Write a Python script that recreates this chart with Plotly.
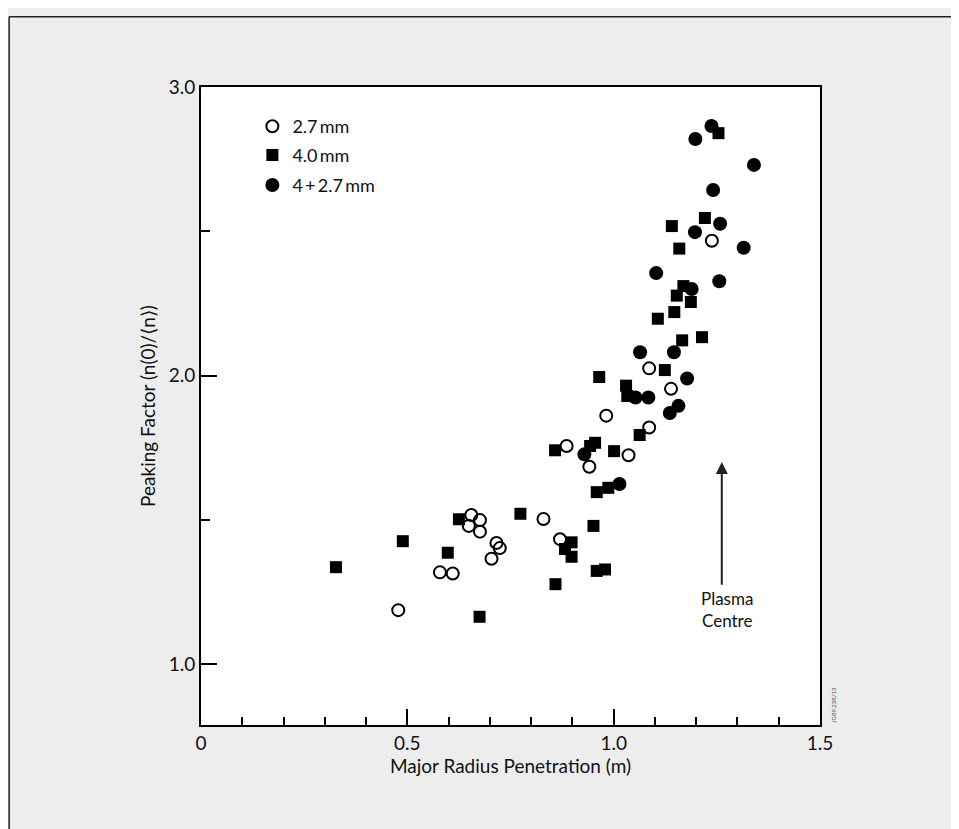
import plotly.graph_objects as go

# ---- data ----
open_x = [0.478, 0.579, 0.610, 0.655, 0.676, 0.649, 0.676, 0.716, 0.724, 0.704,
          0.830, 0.870, 0.886, 0.941, 0.982, 1.036, 1.086, 1.086, 1.139, 1.238]
open_y = [1.187, 1.318, 1.314, 1.517, 1.499, 1.479, 1.459, 1.420, 1.402, 1.365,
          1.503, 1.433, 1.756, 1.684, 1.861, 1.724, 1.820, 2.025, 1.954, 2.467]

sq_x = [0.327, 0.489, 0.598, 0.625, 0.675, 0.774, 0.858, 0.859, 0.882, 0.898,
        0.898, 0.943, 0.955, 0.951, 0.959, 0.979, 0.959, 0.987, 0.965, 1.001,
        1.030, 1.033, 1.063, 1.107, 1.124, 1.141, 1.147, 1.153, 1.159, 1.166,
        1.169, 1.187, 1.214, 1.221, 1.254]
sq_y = [1.336, 1.426, 1.386, 1.502, 1.164, 1.521, 1.741, 1.277, 1.399, 1.422,
        1.372, 1.756, 1.767, 1.479, 1.323, 1.328, 1.596, 1.611, 1.995, 1.738,
        1.965, 1.929, 1.794, 2.197, 2.019, 2.518, 2.220, 2.277, 2.440, 2.122,
        2.310, 2.255, 2.133, 2.546, 2.840]

fc_x = [0.929, 1.014, 1.053, 1.084, 1.064, 1.103, 1.136, 1.157, 1.146, 1.178,
        1.189, 1.197, 1.198, 1.237, 1.241, 1.256, 1.258, 1.315, 1.340]
fc_y = [1.727, 1.624, 1.924, 1.924, 2.081, 2.355, 1.870, 1.895, 2.081, 1.990,
        2.300, 2.497, 2.820, 2.865, 2.643, 2.327, 2.526, 2.443, 2.730]

series_names = ["2.7\u2009mm", "4.0\u2009mm", "4\u2009+\u20092.7\u2009mm"]

x_range = [0, 1.5]
y_range = [0.789, 3.0]
x_ticks = [0, 0.5, 1.0, 1.5]
x_ticklabels = ["0", "0.5", "1.0", "1.5"]
y_ticks = [1.0, 2.0, 3.0]
y_ticklabels = ["1.0", "2.0", "3.0"]

arrow_x = 1.262
arrow_tip_y = 1.70
arrow_tail_y = 1.27

FONT = "Lato, 'Open Sans', sans-serif"

fig = go.Figure()
fig.add_trace(go.Scatter(x=open_x, y=open_y, mode="markers", name=series_names[0],
                         legend="legend",
                         marker=dict(symbol="circle-open", size=12, color="black",
                                     line=dict(width=2, color="black"))))
fig.add_trace(go.Scatter(x=sq_x, y=sq_y, mode="markers", name=series_names[1],
                         legend="legend2",
                         marker=dict(symbol="square", size=12, color="black")))
fig.add_trace(go.Scatter(x=fc_x, y=fc_y, mode="markers", name=series_names[2],
                         legend="legend3",
                         marker=dict(symbol="circle", size=14, color="black")))

fig.add_annotation(x=arrow_x, y=arrow_tip_y, ax=arrow_x, ay=arrow_tail_y,
                   xref="x", yref="y", axref="x", ayref="y",
                   showarrow=True, arrowhead=2, arrowsize=1.2, arrowwidth=2,
                   arrowcolor="#222222", text="")
fig.add_annotation(x=arrow_x + 0.012, y=arrow_tail_y, xref="x", yref="y",
                   text="Plasma<br>Centre", showarrow=False, yanchor="top",
                   xanchor="center", align="center",
                   font=dict(family=FONT, size=17, color="#111111"))
fig.add_annotation(x=1.012, y=0.0, xref="paper", yref="paper",
                   text="JG89.238/13", textangle=-90, showarrow=False,
                   xanchor="left", yanchor="bottom",
                   font=dict(family=FONT, size=6, color="#555555"))

# outer frame of the page (top and left edges visible)
fig.add_shape(type="line", xref="paper", yref="paper",
              x0=-0.31, x1=1.23, y0=1.11, y1=1.11,
              line=dict(color="#222222", width=1.5), layer="below")
fig.add_shape(type="line", xref="paper", yref="paper",
              x0=-0.31, x1=-0.31, y0=-0.17, y1=1.11,
              line=dict(color="#222222", width=1.5), layer="below")

leg_common = dict(x=0.083, xanchor="left", yanchor="middle",
                  bgcolor="rgba(0,0,0,0)", font=dict(family=FONT, size=18),
                  itemwidth=30)

fig.update_layout(
    width=951, height=821,
    margin=dict(l=193, r=139, t=79, b=104),
    paper_bgcolor="#ededed",
    plot_bgcolor="white",
    font=dict(family=FONT, color="#111111"),
    showlegend=True,
    legend=dict(y=0.938, **leg_common),
    legend2=dict(y=0.893, **leg_common),
    legend3=dict(y=0.846, **leg_common),
    xaxis=dict(range=x_range, tickvals=x_ticks, ticktext=x_ticklabels,
               ticks="inside", ticklen=16, tickwidth=1.5, tickcolor="black",
               showgrid=False, zeroline=False, showline=True, linecolor="black",
               linewidth=2, mirror=True,
               minor=dict(dtick=0.1, ticks="inside", ticklen=8, tickcolor="black",
                          tickwidth=1.5, showgrid=False),
               tickfont=dict(family=FONT, size=19),
               title=dict(text="Major Radius Penetration (m)", standoff=6,
                          font=dict(family=FONT, size=19))),
    yaxis=dict(range=y_range, tickvals=y_ticks, ticktext=y_ticklabels,
               ticks="inside", ticklen=16, tickwidth=1.5, tickcolor="black",
               showgrid=False, zeroline=False, showline=True, linecolor="black",
               linewidth=2, mirror=True,
               minor=dict(tickvals=[1.5, 2.5], ticks="inside", ticklen=9,
                          tickcolor="black", tickwidth=1.5, showgrid=False),
               tickfont=dict(family=FONT, size=19),
               title=dict(text="Peaking Factor (n(0)/\u27e8n\u27e9)", standoff=8,
                          font=dict(family=FONT, size=19))),
)

fig.write_html("out.html")
